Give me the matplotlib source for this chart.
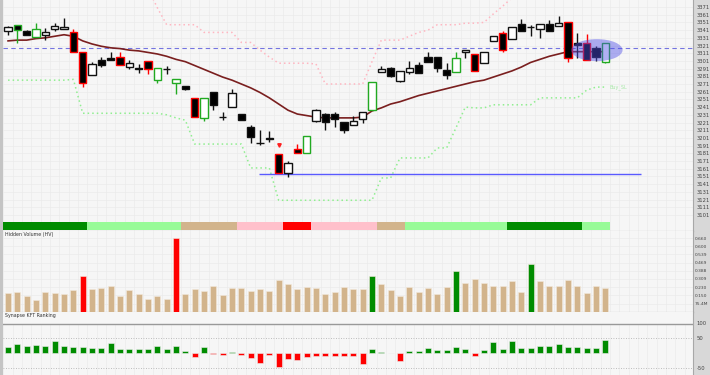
import numpy as np
import matplotlib
matplotlib.use("Agg")
import matplotlib.pyplot as plt
from matplotlib.patches import Rectangle, Ellipse
from matplotlib.transforms import blended_transform_factory

# candles: open, high, low, close
opens = [3340, 3348, 3340, 3332, 3335, 3342, 3342, 3338, 3313, 3283,
         3302, 3305, 3306, 3293, 3292, 3301, 3276, 3291, 3272, 3268,
         3253, 3227, 3261, 3228.5, 3241, 3232, 3215, 3194.5, 3200.5, 3180,
         3155, 3187, 3182, 3223, 3232, 3232, 3222, 3218, 3226, 3237,
         3287, 3292, 3275, 3287, 3296, 3306, 3306, 3289, 3287, 3313,
         3310, 3298, 3327, 3337, 3329, 3349, 3345.5, 3342, 3349, 3346,
         3352, 3324, 3324, 3318, 3300]
highs = [3346, 3348, 3341, 3350, 3344, 3350, 3357, 3342, 3313, 3300,
         3306, 3313, 3313, 3302, 3297, 3301, 3292, 3294, 3278, 3269,
         3253, 3253, 3261, 3235, 3265, 3232, 3218, 3211, 3210, 3180,
         3171, 3193, 3204, 3238, 3233, 3235, 3222, 3229, 3235, 3274,
         3294, 3293, 3288, 3301, 3300, 3313, 3306, 3298, 3313, 3315,
         3310, 3313, 3333, 3340, 3345, 3355, 3348, 3349, 3354, 3359,
         3352, 3337, 3336, 3320, 3324]
lows = [3335, 3324, 3334, 3332, 3328, 3340, 3342, 3313, 3267, 3283,
        3293, 3302, 3296, 3291, 3285, 3284, 3272, 3284, 3258, 3263,
        3228, 3223, 3237, 3224, 3241, 3224, 3194, 3192, 3196, 3155,
        3150, 3182, 3181, 3222, 3211, 3215, 3207, 3218, 3220, 3237,
        3287, 3280, 3274, 3284, 3285, 3300, 3287, 3278, 3287, 3305,
        3288, 3298, 3327, 3313, 3329, 3340, 3333, 3331, 3340, 3346,
        3300, 3305, 3302, 3301, 3298]
closes = [3345, 3341, 3335, 3342, 3338, 3346, 3345, 3313, 3272, 3297,
          3296, 3302, 3296, 3298, 3291, 3291, 3292, 3290, 3278, 3264,
          3228, 3253, 3244, 3228, 3259, 3224, 3202, 3194, 3200, 3155,
          3168, 3182, 3204, 3237, 3222, 3226, 3211, 3223, 3235, 3274,
          3291, 3281, 3288, 3292, 3285, 3300, 3292, 3283, 3305, 3315,
          3288, 3313, 3333, 3315, 3345, 3340, 3345, 3349, 3340, 3350,
          3305, 3322, 3302, 3306, 3324]
# candle outline: k = black, r = red, g = green
edges = ["k", "g", "k", "g", "k", "k", "k", "r", "r", "k",
         "k", "k", "r", "k", "k", "r", "g", "k", "g", "k",
         "r", "g", "k", "k", "k", "k", "k", "k", "k", "r",
         "k", "r", "g", "k", "k", "k", "k", "k", "k", "g",
         "k", "k", "k", "k", "k", "k", "k", "k", "g", "k",
         "r", "k", "k", "r", "k", "k", "k", "k", "k", "k",
         "r", "k", "r", "k", "g"]

moving_avg = [3327, 3328, 3328, 3330, 3331, 3333, 3335, 3333, 3327, 3323,
              3320, 3318, 3317, 3315, 3314, 3312, 3310, 3307, 3303, 3300,
              3295, 3290, 3285, 3280, 3276, 3271, 3266, 3260, 3253, 3245,
              3237, 3232, 3230, 3228, 3227, 3227, 3227, 3227, 3228, 3236,
              3240, 3245, 3248, 3252, 3256, 3259, 3262, 3265, 3268, 3271,
              3274, 3276, 3280, 3284, 3288, 3293, 3299, 3303, 3307, 3310,
              3313, 3313, 3313, 3313, 3313]
nan = np.nan
sell_stop = [nan] * 15 + [3395, 3370, 3348, 3348, 3348, 3348, 3338, 3338, 3338, 3338,
                         3325, 3325, 3315, 3306, 3298, 3298, 3298, 3298, 3297, 3271,
                         3271, 3271, 3271, 3271, 3300, 3328, 3328, 3328, 3333, 3338,
                         3341, 3348, 3348, 3348, 3350, 3350, 3351, 3362, 3372, 3383,
                         3395] + [nan] * 9
buy_stop = [3276, 3276, 3276, 3276, 3276, 3276, 3276, 3277, 3233, 3233,
            3233, 3233, 3233, 3233, 3233, 3233, 3233, 3231, 3227, 3224,
            3193, 3193, 3193, 3193, 3193, 3193, 3162, 3162, 3162, 3120,
            3120, 3120, 3120, 3120, 3120, 3120, 3120, 3120, 3120, 3120,
            3149, 3149, 3175, 3175, 3175, 3175, 3188, 3188, 3214, 3241,
            3240, 3240, 3244, 3244, 3244, 3244, 3244, 3253, 3253, 3253,
            3253, 3253, 3263, 3267, 3267]

# colour strip under the candles
strip = (["dg"] * 9 + ["lg"] * 10 + ["tan"] * 6 + ["pink"] * 5 + ["red"] * 3 +
         ["pink"] * 7 + ["tan"] * 3 + ["lg"] * 11 + ["dg"] * 8 + ["lg"] * 3)
strip_colors = {"dg": "#008c00", "lg": "#98fb98", "tan": "#d2b48c",
                "pink": "#ffc0cb", "red": "#ff0000"}

# hidden volume (millions)
volume = [172, 178, 145, 107, 178, 167, 158, 196, 324, 202,
          217, 235, 145, 196, 161, 113, 143, 113, 660, 161,
          205, 190, 232, 152, 214, 214, 187, 205, 187, 285,
          250, 205, 220, 217, 158, 181, 220, 205, 205, 321,
          250, 196, 143, 223, 178, 211, 161, 223, 366, 259,
          292, 261, 232, 232, 279, 181, 425, 277, 229, 235,
          285, 229, 172, 229, 211]
vol_red = [8, 18]
vol_green = [39, 48, 56]
vol_labels = ["75.4M", "0.150", "0.230", "0.309", "0.388", "0.469", "0.539", "0.600", "0.660"]

# synapse KFT ranking
ranking = [22, 31, 24, 27, 24, 41, 24, 22, 20, 18,
           18, 34, 14, 14, 14, 13, 23, 13, 25, 9,
           -11, 20, -1, -7, 4, -7, -16, -33, -7, -47,
           -20, -23, -12, -10, -10, -8, -8, -8, -37, 13,
           5, 0, -25, 8, 8, 17, 11, 11, 21, 14,
           -10, 11, 37, 16, 41, 18, 18, 24, 24, 31,
           21, 21, 19, 18, 43]

support_level = 3154
reference_level = 3318
signal_idx = [29]
signal_price = [3192]

n = len(opens)
idx = np.arange(n)
W, H = 710, 375
xlim = (-0.54, 73.4)

fig = plt.figure(figsize=(7.1, 3.75), dpi=100)
fig.patch.set_facecolor("#f2f2f2")
fig.add_artist(Rectangle((693 / W, 0), 17 / W, 1, transform=fig.transFigure,
                         color="#d8d8d8", zorder=-1))
fig.add_artist(Rectangle((0, 0), 3 / W, 1, transform=fig.transFigure,
                         color="#c4c4c4", zorder=-1))


def make_ax(top, bottom, labelsize=3.8):
    ax = fig.add_axes([3 / W, 1 - bottom / H, 690 / W, (bottom - top) / H])
    ax.set_facecolor("#f6f6f6")
    ax.set_xlim(*xlim)
    ax.set_xticks(np.arange(-0.5, 73.5, 1))
    ax.tick_params(axis="x", length=0, labelbottom=False)
    ax.yaxis.tick_right()
    ax.tick_params(axis="y", length=0, labelsize=labelsize, labelcolor="#444444", pad=2.5)
    ax.grid(True, color="#ebebeb", lw=0.5)
    ax.set_axisbelow(True)
    for s in ["top", "left"]:
        ax.spines[s].set_visible(False)
    ax.spines["right"].set_color("#a8a8a8")
    ax.spines["bottom"].set_color("#999999")
    return ax


# ---- main price panel
ax = make_ax(0, 231)
ax.set_ylim(3080.1, 3380.1)
ax.set_yticks(np.arange(3101, 3380, 10))

ax.plot(idx, sell_stop, color="#ffb6c1", lw=1.1, ls=(0, (1, 2)), zorder=2)
ax.plot(idx, buy_stop, color="#90ee90", lw=1.1, ls=(0, (1, 2)), zorder=2)
ax.text(64.4, buy_stop[-1], "Buy_SL", color="#a8e8a8", fontsize=3.5, va="center")
ax.axhline(reference_level, color="#7474e0", lw=0.8, ls=(0, (4, 3)), zorder=2)
ax.hlines(support_level, 26.9, 67.8, color="#5a5aff", lw=1.0, zorder=2)
ax.plot(idx, moving_avg, color="#7a1f1f", lw=1.2, zorder=3)

edge_map = {"k": "#111111", "r": "#ff0000", "g": "#22aa22"}
ec = [edge_map[e] for e in edges]
ax.vlines(idx, lows, highs, colors=ec, lw=1.0, zorder=4)
o = np.array(opens)
c = np.array(closes)
bottoms = np.minimum(o, c)
heights = np.maximum(np.abs(c - o), 0.4)
fills = ["white" if cc > oo else "black" for oo, cc in zip(o, c)]
ax.bar(idx, heights, bottom=bottoms, width=0.8, color=fills, edgecolor=ec,
       lw=1.0, zorder=5)
ax.plot(signal_idx, signal_price, marker="v", color="#ff2020", ms=2.5, ls="none", zorder=5)
ax.add_patch(Ellipse((63.1, 3315), 5.5, 28.6, color="#5050e8", alpha=0.45, lw=0, zorder=6))

tr = blended_transform_factory(ax.transData, ax.transAxes)
for i, s in enumerate(strip):
    ax.add_patch(Rectangle((i - 0.5, 1 / 231), 1, 8 / 231, transform=tr,
                           color=strip_colors[s], lw=0, zorder=3))

# ---- hidden volume panel
axv = make_ax(231, 312, labelsize=3.2)
axv.set_ylim(0, (312 - 231) * 8.92)
vol_ticks = np.linspace(75.4, 660, len(vol_labels))
axv.set_yticks(vol_ticks)
axv.set_yticklabels(vol_labels)
axv.tick_params(axis="y", pad=1.5)
vcols = ["#d2b48c"] * n
for i in vol_red:
    vcols[i] = "#ff0000"
for i in vol_green:
    vcols[i] = "#008c00"
axv.bar(idx, volume, width=0.65, color=vcols, edgecolor="#f3e9dc", lw=0.4, zorder=3)
axv.text(0.003, 0.985, "Hidden Volume (HV)", transform=axv.transAxes,
         fontsize=3.4, color="#333333", va="top")

# ---- synapse panel
axs = make_ax(312, 375)
axs.set_ylim(-72.3, 137.7)
axs.set_yticks([100, 50, -50])
axs.set_yticklabels(["100", "50", "-50"])
axs.grid(False)
for gx in np.arange(-0.5, 73.5, 1):
    axs.axvline(gx, ymin=0, ymax=(97.7 + 72.3) / 210, color="#ebebeb", lw=0.5, zorder=0)
axs.axhline(97.7, color="#999999", lw=1.0, zorder=2)
axs.axhline(50, color="#aaaaaa", lw=0.6, ls=(0, (1, 2)), zorder=1)
axs.axhline(-50, color="#aaaaaa", lw=0.6, ls=(0, (1, 2)), zorder=1)
scols = ["#008c00" if v >= 0 else "#ff0000" for v in ranking]
axs.bar(idx, ranking, width=0.65, color=scols, edgecolor="#eeeeee", lw=0.4, zorder=3)
axs.text(0.003, 0.985, "Synapse KFT Ranking", transform=axs.transAxes,
         fontsize=3.4, color="#333333", va="top")
axs.spines["bottom"].set_visible(False)

fig.savefig("out.png", dpi=100)
